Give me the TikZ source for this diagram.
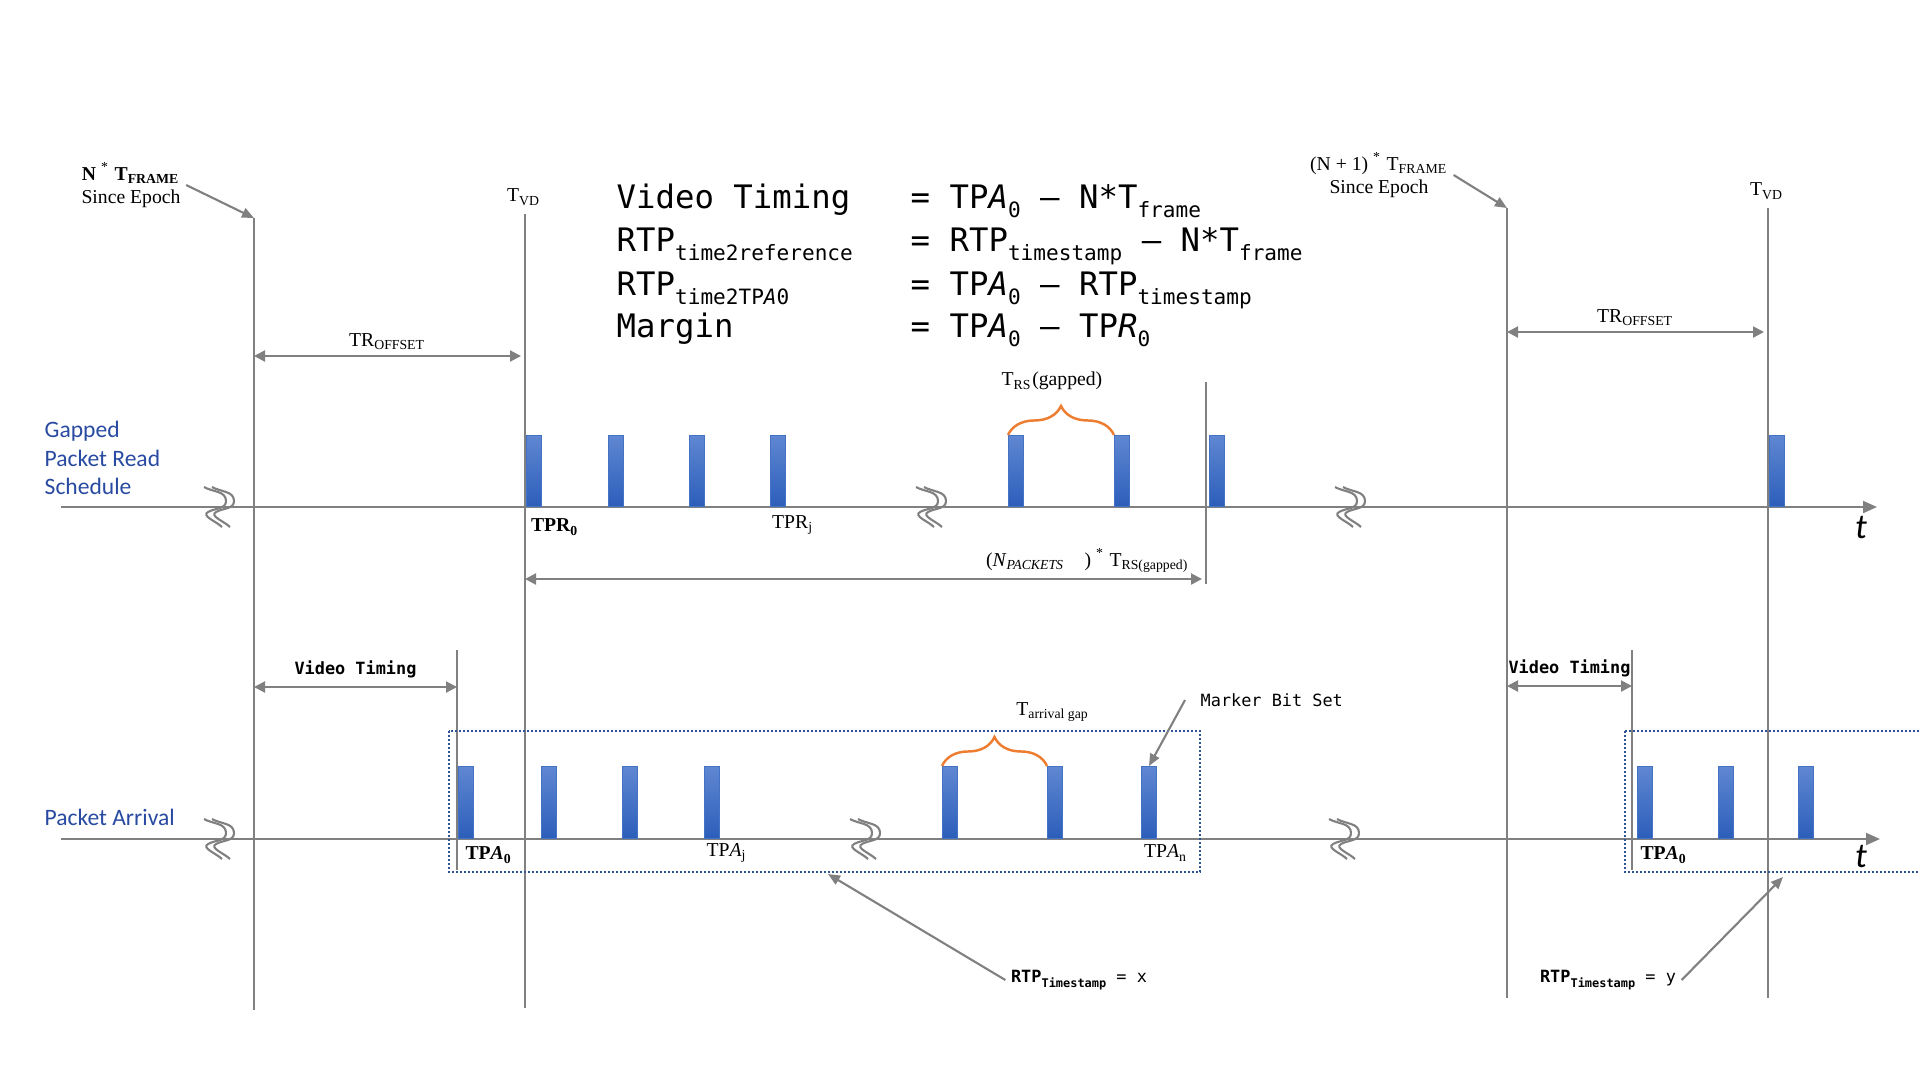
\documentclass[tikz,border=0pt]{standalone}
\usepackage{fontspec}
\newfontfamily\codefont{DejaVu Sans Mono}
\newfontfamily\calfont{Carlito}
\newfontfamily\serfont{Liberation Serif}
\usetikzlibrary{positioning, arrows.meta, calc, decorations.pathreplacing}

\definecolor{lgray}{RGB}{128,128,128}
\definecolor{bartop}{RGB}{95,135,210}
\definecolor{barbot}{RGB}{44,94,186}
\definecolor{barline}{RGB}{68,114,196}
\definecolor{grpblue}{RGB}{47,84,150}
\definecolor{rowblue}{RGB}{40,74,160}
\definecolor{brorange}{RGB}{237,125,49}

% lowered small text in the mono formulas
\newcommand{\dn}[1]{\raisebox{-0.55ex}{\fontsize{6.0}{7}\selectfont #1}}

\begin{document}
\begin{tikzpicture}[
    x=0.1mm, y=-0.1mm,
    gline/.style={draw=lgray, line width=0.6pt},
    taxis/.style={gline, -{Triangle[length=1.4mm, width=1.2mm]}},
    dim/.style={gline, {Triangle[length=1.1mm, width=1.1mm]}-{Triangle[length=1.1mm, width=1.1mm]}},
    ann/.style={gline, -{Triangle[length=1.2mm, width=1.0mm]}},
    brk/.style={draw=lgray, line width=0.6pt},
    pkt/.style={draw=barline, line width=0.3pt, top color=bartop, bottom color=barbot, minimum width=1.5mm, minimum height=7.1mm, inner sep=0pt, anchor=south west},
    grp/.style={draw=grpblue, line width=0.6pt, dash pattern=on 0.2mm off 0.2mm},
    brc/.style={draw=brorange, line width=0.7pt, decorate, decoration={brace, amplitude=2.9mm}},
    lbl/.style={font=\fontsize{5.6}{6.6}\serfont, inner sep=0.5mm, align=center},
    frm/.style={font=\fontsize{9.2}{11}\codefont, inner sep=0pt, anchor=base west},
    note/.style={font=\fontsize{4.8}{5.8}\codefont, inner sep=0.5mm},
    rowlbl/.style={font=\fontsize{6.7}{8}\calfont, text=rowblue, align=left, inner sep=0pt, anchor=west},
    tlbl/.style={font=\fontsize{10}{12}\calfont\itshape, inner sep=0pt}
]
    \useasboundingbox (0,0) rectangle (1920,1080);

    % Time markers
    \coordinate (e1t) at (254,218);  \coordinate (e1b) at (254,1010);
    \coordinate (e2t) at (525,214);  \coordinate (e2b) at (525,1008);
    \coordinate (e3t) at (1507,208); \coordinate (e3b) at (1507,998);
    \coordinate (e4t) at (1768,208); \coordinate (e4b) at (1768,998);
    \coordinate (e5t) at (1206,382); \coordinate (e5b) at (1206,584);
    \coordinate (e6t) at (457,650);  \coordinate (e6b) at (457,870);
    \coordinate (e7t) at (1632,650); \coordinate (e7b) at (1632,870);
    \foreach \e in {1,...,7}
        \draw[gline] (e\e t) -- (e\e b);

    % Time axes
    \coordinate (ra0) at (61,507);  \coordinate (ra1) at (1877,507);
    \coordinate (pa0) at (61,839);  \coordinate (pa1) at (1880,839);
    \draw[taxis] (ra0) -- (ra1);
    \draw[taxis] (pa0) -- (pa1);
    \node[tlbl] (t1) at (1861,527) {t};
    \node[tlbl] (t2) at (1861,856) {t};

    % Axis breaks
    \foreach \bx/\by in {216/507, 928/507, 1347/507, 216/839, 862/839, 1341/839}
        \foreach \dx in {0,8}
            \draw[brk] (\bx+\dx-12,\by-20) to[out=-30, in=90] (\bx+\dx+10,\by-6) to[out=-90, in=30] (\bx+\dx-8,\by+5) to[out=-150, in=135] (\bx+\dx+6,\by+20);

    % Packet groups
    \draw[grp] (449,731) rectangle (1200,872);
    \draw[grp] (1625,731) rectangle (1925,872);

    % Packets
    \foreach \px [count=\i] in {526,608,689,770,1008,1114,1209,1769}
        \node[pkt] (pr\i) at (\px,507) {};
    \foreach \px [count=\i] in {458,541,622,704,942,1047,1141,1637,1718,1798}
        \node[pkt, minimum height=7.2mm] (pa\i) at (\px,839) {};

    % Gaps
    \draw[brc] (pr5.north west) -- (pr6.north west);
    \draw[brc] (pa5.north west) -- (pa6.north west);
    \node[lbl] (trs) at (1052,381) {T\textsubscript{RS}(gapped)};
    \node[lbl] (tag) at (1053,712) {T\textsubscript{arrival gap}};

    % Row labels
    \node[rowlbl] (gprs) at (44,458) {Gapped\\Packet Read\\Schedule};
    \node[rowlbl] (parr) at (44,817) {Packet Arrival};

    % Formulas
    \node[frm] (vtl) at (616,208) {Video Timing};
    \node[frm] (vtr) at (910,208) {= TP\textit{A}\dn{0} – N*T\dn{frame}};
    \node[frm] (rrl) at (616,251) {RTP\dn{time2reference}};
    \node[frm] (rrr) at (910,251) {= RTP\dn{timestamp} – N*T\dn{frame}};
    \node[frm] (rtl) at (616,295) {RTP\dn{time2TP\textit{A}0}};
    \node[frm] (rtr) at (910,295) {= TP\textit{A}\dn{0} – RTP\dn{timestamp}};
    \node[frm] (mgl) at (616,337) {Margin};
    \node[frm] (mgr) at (910,337) {= TP\textit{A}\dn{0} – TP\textit{R}\dn{0}};

    % Epoch labels
    \node[lbl] (ep1) at (131,185) {\textbf{N} \textsuperscript{*} \textbf{T\textsubscript{FRAME}}\\Since Epoch};
    \node[lbl] (ep2) at (1379,175) {(N + 1) \textsuperscript{*} T\textsubscript{FRAME}\\Since Epoch};
    \draw[ann] (ep1.east) -- (e1t);
    \draw[ann] (ep2.east) -- (e3t);
    \node[lbl] (tvd1) at (524,197) {T\textsubscript{VD}};
    \node[lbl] (tvd2) at (1767,191) {T\textsubscript{VD}};

    % Offsets
    \coordinate (o1a) at (254,356);  \coordinate (o1b) at (521,356);
    \coordinate (o2a) at (1507,332); \coordinate (o2b) at (1764,332);
    \coordinate (npa) at (525,579);  \coordinate (npb) at (1202,579);
    \coordinate (v1a) at (254,687);  \coordinate (v1b) at (457,687);
    \coordinate (v2a) at (1507,686); \coordinate (v2b) at (1632,686);
    \draw[dim] (o1a) -- (o1b) node[lbl, midway, above] {TR\textsubscript{OFFSET}};
    \draw[dim] (o2a) -- (o2b) node[lbl, midway, above] {TR\textsubscript{OFFSET}};
    \draw[dim] (npa) -- (npb) node[lbl, pos=0.99, anchor=south east] {(\textit{N}\textsubscript{\textit{PACKETS}}\quad) \textsuperscript{*} T\textsubscript{RS(gapped)}};
    \draw[dim] (v1a) -- (v1b) node[note, font=\fontsize{4.8}{5.8}\codefont\bfseries, midway, above, inner sep=0.8mm] {Video Timing};
    \draw[dim] (v2a) -- (v2b) node[note, font=\fontsize{4.8}{5.8}\codefont\bfseries, midway, above, inner sep=0.8mm] {Video Timing};

    % Packet labels
    \node[lbl] (tpr0) at (555,527) {\textbf{TPR\textsubscript{0}}};
    \node[lbl] (tprj) at (793,525) {TPR\textsubscript{j}};
    \node[lbl] (tpa0) at (489,855) {\textbf{TP\textit{A}\textsubscript{0}}};
    \node[lbl] (tpaj) at (727,853) {TP\textit{A}\textsubscript{j}};
    \node[lbl] (tpan) at (1166,853) {TP\textit{A}\textsubscript{n}};
    \node[lbl] (tpa0r) at (1664,855) {\textbf{TP\textit{A}\textsubscript{0}}};

    % Notes
    \node[note, anchor=west, inner xsep=1.5mm] (mbs) at (1185,700) {Marker Bit Set};
    \draw[ann] (mbs.west) -- (pa7.north);
    \coordinate (xend) at (828,874);
    \coordinate (yend) at (1783,877);
    \node[note] (rtpx) at (1079,980) {{\bfseries RTP\raisebox{-0.45ex}{\fontsize{3.4}{4}\selectfont Timestamp}} = x};
    \node[note] (rtpy) at (1608,980) {{\bfseries RTP\raisebox{-0.45ex}{\fontsize{3.4}{4}\selectfont Timestamp}} = y};
    \draw[ann] (rtpx.west) -- (xend);
    \draw[ann] (rtpy.east) -- (yend);
\end{tikzpicture}
\end{document}
